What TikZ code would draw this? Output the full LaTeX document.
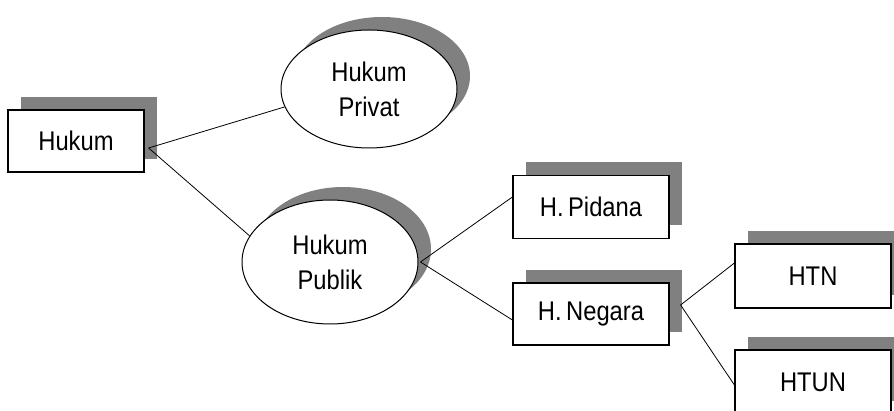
\documentclass[tikz,border=0pt]{standalone}
\usepackage{fontspec}
\setmainfont[FakeStretch=0.88]{Liberation Sans}
\usetikzlibrary{shapes.geometric,shadows}
\definecolor{shadowgray}{HTML}{808080}
\tikzset{
  shade3d/.style={general shadow={fill=shadowgray,shadow xshift=13pt,shadow yshift=13pt}},
  boxnode/.style={shade3d,draw=black,fill=white,line width=1.2pt,rectangle,
    minimum width=156pt,minimum height=63pt,inner sep=0pt,
    font=\fontsize{27}{32}\selectfont},
  ovalnode/.style={shade3d,draw=black,fill=white,line width=1pt,ellipse,
    inner sep=0pt,align=center,font=\fontsize{27}{35}\selectfont},
  link/.style={draw=black,line width=0.8pt}
}
\begin{document}
\begin{tikzpicture}[x=1pt,y=-1pt]
\useasboundingbox (0,0) rectangle (894,411);
\fill[white] (0,0) rectangle (894,411);

% nodes
\node[boxnode,minimum width=136pt,minimum height=62pt] (hukum) at (76,141) {Hukum};
\node[ovalnode,minimum width=176pt,minimum height=118pt] (privat) at (369,89) {Hukum\\Privat};
\node[ovalnode,minimum width=176pt,minimum height=124pt] (publik) at (330,262) {Hukum\\Publik};
\node[boxnode] (pidana) at (591,207) {H.\,Pidana};
\node[boxnode,minimum height=62pt] (negara) at (591,314) {H.\,Negara};
\node[boxnode,minimum height=64pt] (htn) at (813,276) {HTN};
\node[boxnode,minimum height=64pt] (htun) at (813,382) {HTUN};

% connectors
\draw[link] ([xshift=4pt,yshift=-7pt]hukum.east) -- (privat.192);
\draw[link] ([xshift=4pt,yshift=-7pt]hukum.east) -- (publik.162);
\draw[link] ([xshift=2pt]publik.east) -- ([yshift=10pt]pidana.west);
\draw[link] ([xshift=2pt]publik.east) -- ([yshift=-6pt]negara.west);
\draw[link] ([xshift=11pt,yshift=9pt]negara.east) -- ([yshift=13pt]htn.west);
\draw[link] ([xshift=11pt,yshift=9pt]negara.east) -- ([yshift=-3pt]htun.west);
\end{tikzpicture}
\end{document}
